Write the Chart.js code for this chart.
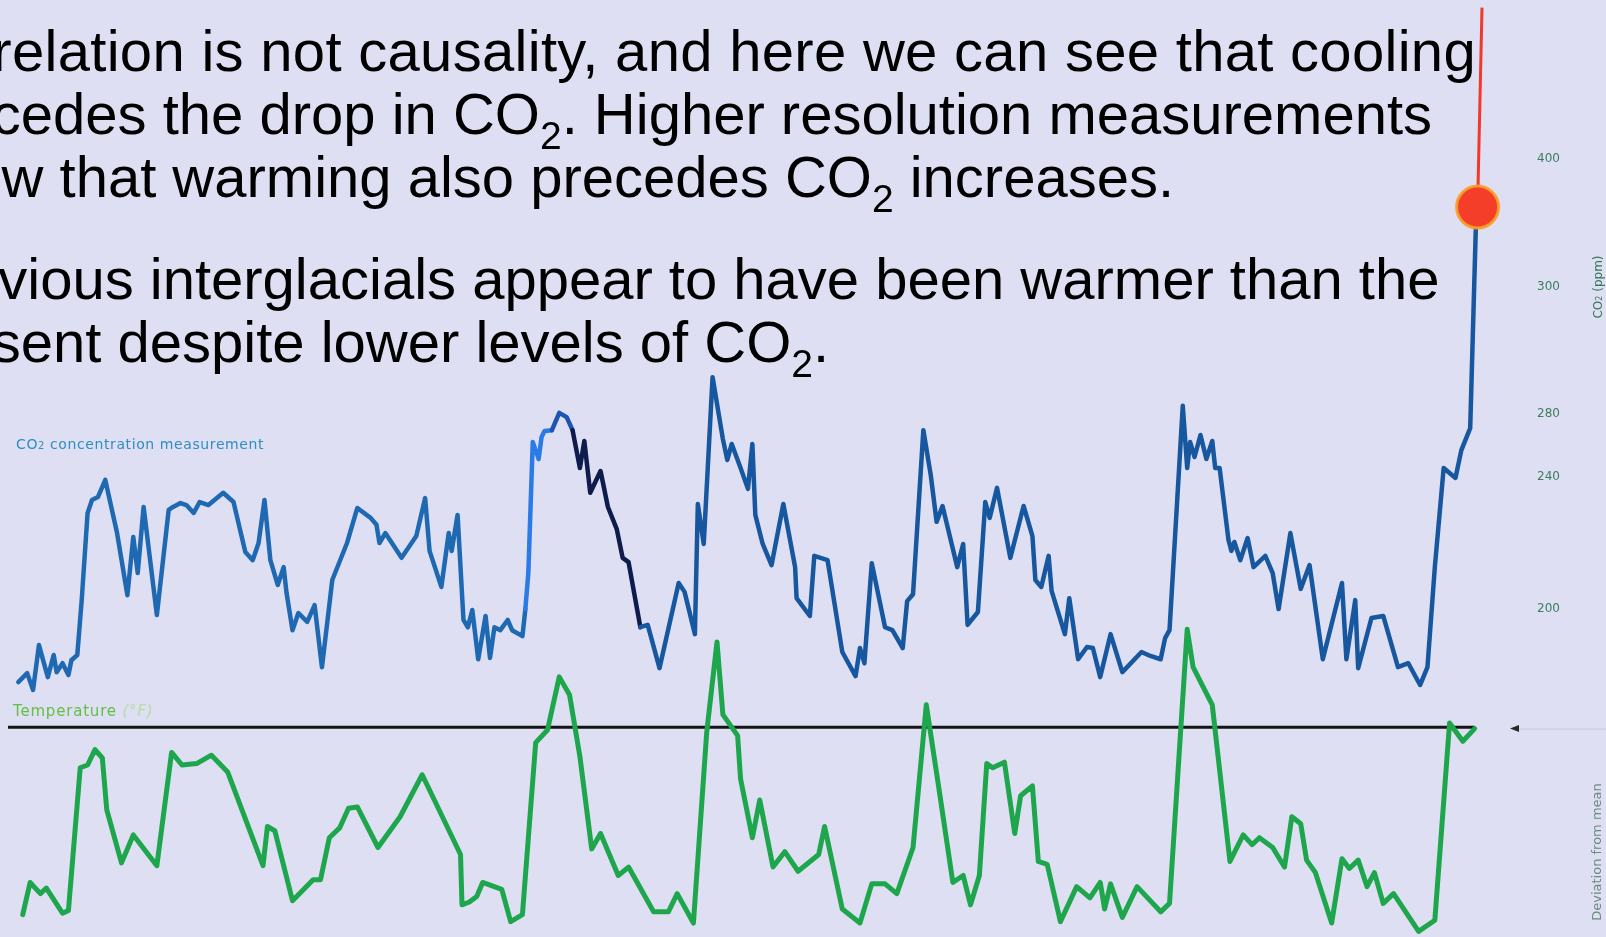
<!DOCTYPE html>
<html>
<head>
<meta charset="utf-8">
<script src="https://cdn.jsdelivr.net/npm/chart.js@4.4.1/dist/chart.umd.min.js"></script>
<style>
  html, body { margin: 0; padding: 0; background: #dedff2; }
  #wrap { position: relative; width: 1606px; height: 937px; overflow: hidden; background: #dedff2; }
  #chartBox { position: absolute; left: 0; top: 0; width: 1606px; height: 937px; }
  .para { position: absolute; left: -92px; font-family: "Liberation Sans", Arial, sans-serif; font-size: 58px; line-height: 63px; color: #000; white-space: nowrap; }
  .first { display: inline-block; margin-left: -10px; letter-spacing: 0.3px; }
  .sub { font-size: 39px; position: relative; top: 15px; line-height: 0; }
  .lbl { position: absolute; font-family: "DejaVu Sans", sans-serif; white-space: nowrap; }
  .rot { position: absolute; font-family: "DejaVu Sans", sans-serif; white-space: nowrap; transform: translate(-50%, -50%) rotate(-90deg); }
</style>
</head>
<body>
<div id="wrap">
  <div id="chartBox"><canvas id="co2Chart"></canvas></div>

  <div class="para" style="top:19px"><span class="first">Correlation is not causality, and here we can see that cooling</span><br>precedes the drop in CO<span class="sub">2</span>. Higher resolution measurements<br>show that warming also precedes CO<span class="sub">2</span> increases.</div>
  <div class="para" style="top:247px">Previous interglacials appear to have been warmer than the<br>present despite lower levels of CO<span class="sub">2</span>.</div>

  <div class="lbl" style="left:16px; top:436px; font-size:14px; letter-spacing:0.6px; color:#2f8dc2;">CO<span style="font-size:10px">2</span> concentration measurement</div>
  <div class="lbl" style="left:13px; top:702px; font-size:15px; letter-spacing:0.8px; color:#62bf44;">Temperature <span style="color:#b8dba4; font-style:italic">(°F)</span></div>
  <div class="rot" style="left:1598px; top:287px; font-size:12px; color:#357a5c;">CO<span style="font-size:8px">2</span> (ppm)</div>
  <div class="rot" style="left:1596px; top:852px; font-size:13px; color:#668c7e;">Deviation from mean</div>
</div>

<script>
// CO2 axis labels; the original axis is broken, so each label has its own place
const co2TickValues = [200, 240, 280, 300, 400];
// share of the plot height (from the bottom) where each label sits
const co2TickShare = [0.350, 0.491, 0.558, 0.694, 0.830];

// position along the record, 0 = left end, 100 = right end (no labelled time axis)
const co2Pos = [
  0.7, 1.3, 1.7, 2.1, 2.7, 3.1, 3.3, 3.7, 4.1, 4.3,
  4.7, 5.0, 5.4, 5.7, 6.1, 6.6, 7.4, 8.1, 8.5, 8.8,
  9.2, 10.1, 10.9, 11.2, 11.7, 12.1, 12.6, 13.0, 13.6, 14.6,
  15.3, 16.1, 16.6, 17.0, 17.4, 17.8, 18.3, 18.7, 18.9, 19.3,
  19.7, 20.3, 20.8, 21.3, 22.0, 23.0, 23.7, 24.6, 25.0, 25.2,
  25.6, 26.7, 27.7, 28.3, 28.6, 29.4, 29.9, 30.1, 30.5, 30.9,
  31.2, 31.5, 31.9, 32.4, 32.7, 33.0, 33.4, 33.9, 34.2, 34.9,
  35.1, 35.3, 35.6, 36.0, 36.2, 36.4, 36.9, 37.4, 37.9, 38.3,
  38.8, 39.1, 39.5, 40.2, 40.7, 41.3, 41.7, 42.1, 42.9, 43.4,
  44.2, 45.5, 45.9, 46.6, 46.8, 47.2, 47.8, 48.5, 48.8, 49.1,
  49.7, 50.2, 50.5, 50.7, 51.2, 51.8, 52.6, 53.4, 53.5, 54.4,
  54.7, 55.6, 56.6, 57.5, 57.8, 58.1, 58.6, 59.5, 60.0, 60.7,
  61.0, 61.4, 62.1, 62.6, 63.0, 63.4, 64.4, 64.8, 65.1, 65.8,
  66.3, 66.6, 67.1, 68.0, 68.9, 69.5, 69.7, 70.1, 70.6, 70.8,
  71.7, 72.0, 72.6, 73.2, 73.6, 74.1, 74.8, 75.6, 76.9, 77.5,
  78.2, 78.5, 78.8, 79.7, 80.0, 80.2, 80.5, 80.9, 81.3, 81.7,
  81.9, 82.2, 82.8, 83.0, 83.2, 83.6, 84.1, 84.5, 85.3, 85.8,
  86.2, 87.0, 87.7, 88.3, 89.2, 90.5, 90.8, 91.4, 91.6, 92.5,
  93.3, 94.3, 95.0, 95.8, 96.3, 96.8, 97.4, 98.2, 98.6, 99.2,
  99.6
];
// CO2 in ppm
const co2Ppm = [
  177.9, 180.6, 175.5, 189.1, 179.4, 186.1, 180.9, 183.6, 180.0, 184.5,
  186.1, 202.7, 229.1, 233.0, 233.9, 239.1, 223.0, 204.2, 221.8, 210.9,
  230.9, 198.2, 230.0, 230.9, 232.1, 231.5, 229.1, 232.4, 231.5, 235.2,
  232.4, 217.3, 214.8, 220.0, 233.0, 214.8, 207.3, 212.7, 204.8, 193.6,
  198.8, 196.1, 201.2, 182.4, 208.8, 220.0, 230.6, 227.6, 225.5, 220.0,
  223.0, 215.5, 222.1, 233.6, 217.6, 206.7, 223.0, 217.6, 228.5, 196.7,
  194.5, 199.7, 184.8, 197.9, 185.2, 194.5, 193.6, 196.7, 193.6, 191.8,
  200.0, 210.9, 262.2, 251.4, 265.4, 269.2, 269.8, 280.2, 278.1, 269.8,
  245.7, 262.9, 235.2, 243.8, 230.9, 224.2, 215.5, 214.2, 194.5, 195.2,
  182.1, 207.9, 205.2, 192.4, 231.8, 219.7, 285.8, 264.1, 250.8, 261.0,
  245.7, 236.4, 261.0, 228.5, 219.7, 213.3, 231.8, 212.7, 203.3, 197.9,
  216.1, 214.8, 187.0, 179.7, 188.2, 183.6, 213.9, 194.5, 193.6, 188.2,
  202.4, 204.5, 269.8, 241.3, 226.4, 231.2, 212.7, 219.7, 195.2, 199.1,
  232.4, 227.6, 236.7, 215.5, 231.2, 222.1, 208.8, 206.7, 216.1, 205.5,
  192.4, 203.3, 184.8, 188.5, 188.2, 179.4, 192.4, 180.9, 187.0, 185.8,
  184.8, 191.2, 193.6, 281.3, 245.7, 262.2, 252.7, 266.7, 251.4, 262.9,
  245.7, 245.7, 220.9, 217.6, 220.3, 214.8, 221.5, 212.7, 216.1, 210.9,
  200.0, 223.0, 206.1, 213.3, 184.8, 207.9, 184.8, 202.7, 182.1, 197.3,
  197.9, 182.4, 183.6, 177.0, 182.4, 212.7, 245.7, 239.7, 257.1, 271.1,
  353.9
];

// present-day reading (red dot) and the line that leaves the chart
const recentPos = [99.7, 100];
const recentPpm = [362.5, 519];

// temperature, deviation from mean (°F)
const tempPos = [
  1.0, 1.5, 2.2, 2.6, 3.7, 4.1, 4.9, 5.4, 5.9, 6.4,
  6.7, 7.7, 8.5, 10.1, 11.1, 11.8, 12.8, 13.8, 14.9, 17.3,
  17.6, 18.1, 19.3, 20.7, 21.2, 21.8, 22.5, 23.1, 23.7, 25.1,
  26.6, 28.1, 30.7, 30.8, 31.3, 31.8, 32.2, 33.5, 34.1, 34.9,
  35.8, 36.6, 37.4, 38.1, 38.8, 39.6, 40.2, 41.4, 42.1, 43.8,
  44.8, 45.4, 46.5, 47.4, 48.1, 48.5, 49.5, 49.7, 50.5, 51.0,
  51.9, 52.7, 53.6, 55.0, 55.4, 56.6, 57.8, 58.6, 59.5, 60.3,
  61.4, 62.3, 63.2, 64.1, 64.8, 65.3, 65.9, 66.4, 66.8, 67.6,
  68.3, 68.7, 69.5, 69.9, 70.5, 71.4, 72.5, 73.4, 74.1, 74.4,
  74.8, 75.6, 76.6, 78.2, 78.8, 80.0, 80.4, 81.7, 82.9, 83.8,
  84.4, 84.9, 85.8, 86.6, 87.1, 87.7, 88.1, 88.7, 89.8, 90.5,
  91.0, 91.6, 92.2, 92.7, 93.3, 94.0, 95.7, 96.8, 97.8, 98.7,
  99.5
];
const tempDev = [
  -13.4, -11.1, -11.9, -11.5, -13.3, -13.1, -2.9, -2.7, -1.6, -2.2,
  -5.9, -9.7, -7.7, -9.9, -1.8, -2.7, -2.6, -2.0, -3.2, -9.9,
  -7.1, -7.4, -12.4, -10.9, -10.9, -7.9, -7.2, -5.8, -5.7, -8.6,
  -6.4, -3.4, -9.1, -12.7, -12.5, -12.1, -11.1, -11.6, -13.9, -13.4,
  -1.1, -0.2, 3.6, 2.3, -2.1, -8.7, -7.6, -10.6, -10.0, -13.2,
  -13.2, -11.9, -14.0, -0.4, 6.1, 0.9, -0.6, -3.7, -7.9, -5.2,
  -10.0, -8.9, -10.3, -9.1, -7.1, -13.0, -14.0, -11.2, -11.2, -11.9,
  -8.6, 1.6, -4.7, -11.1, -10.6, -12.7, -10.6, -2.6, -2.9, -2.5,
  -7.6, -4.9, -4.2, -9.6, -9.8, -13.9, -11.4, -12.2, -11.1, -13.0,
  -11.2, -13.6, -11.4, -13.2, -12.6, 7.0, 4.3, 1.6, -9.6, -7.7,
  -8.4, -7.9, -8.6, -10.0, -6.4, -6.9, -9.5, -10.4, -14.0, -9.4,
  -10.1, -9.5, -11.4, -10.4, -12.6, -11.9, -14.6, -13.8, 0.3, -1.0,
  -0.1
];

// mean line (zero deviation)
const meanPos = [0, 99.5];
const meanDev = [0, 0];

const toPoints = (xs, ys) => xs.map((x, i) => ({ x: x, y: ys[i] }));

// piecewise mapping for the broken CO2 axis
function co2Share(v) {
  const t = co2TickValues, s = co2TickShare, n = t.length;
  let i = 0;
  if (v >= t[n - 1]) i = n - 2;
  else while (i < n - 2 && v > t[i + 1]) i++;
  return s[i] + (v - t[i]) * (s[i + 1] - s[i]) / (t[i + 1] - t[i]);
}

class BrokenScale extends Chart.LinearScale {
  getPixelForValue(value) {
    return this.getPixelForDecimal(co2Share(value));
  }
}
BrokenScale.id = 'broken';
BrokenScale.defaults = Chart.LinearScale.defaults;
Chart.register(BrokenScale);

// little arrow marking "today" on the temperature axis
const meanMarker = {
  id: 'meanMarker',
  afterDatasetsDraw(chart) {
    const y = Math.round(chart.scales.yTemp.getPixelForValue(0)) + 1.5;
    const x = chart.chartArea.right + 28;
    const c = chart.ctx;
    c.save();
    c.fillStyle = '#2a2a2a';
    c.beginPath();
    c.moveTo(x, y);
    c.lineTo(x + 9, y - 3.5);
    c.lineTo(x + 9, y + 3.5);
    c.closePath();
    c.fill();
    c.strokeStyle = '#c8c9da';
    c.lineWidth = 1;
    c.beginPath();
    c.moveTo(x + 9, y + 0.5);
    c.lineTo(chart.width, y + 0.5);
    c.stroke();
    c.restore();
  }
};

const co2Shade = ctx => {
  const x = ctx.p0.parsed.x;
  if (x < 35.0) return '#1f69b2';
  if (x < 36.5) return '#2b7be6';
  if (x < 38.0) return '#1d55b0';
  if (x < 42.5) return '#0d1c4d';
  return '#17579f';
};

const ctx = document.getElementById('co2Chart').getContext('2d');
new Chart(ctx, {
  type: 'line',
  data: {
    datasets: [
      {
        label: 'Present',
        data: toPoints(recentPos, recentPpm),
        yAxisID: 'yCo2',
        clip: false,
        borderColor: '#f2382b',
        borderWidth: 3,
        pointRadius: [21, 0],
        pointBackgroundColor: '#f43e2a',
        pointBorderColor: 'rgba(247,160,38,0.9)',
        pointBorderWidth: 3
      },
      {
        label: 'CO2 concentration measurement',
        data: toPoints(co2Pos, co2Ppm),
        yAxisID: 'yCo2',
        borderColor: '#17579f',
        borderWidth: 4.5,
        borderJoinStyle: 'round',
        borderCapStyle: 'round',
        pointRadius: 0,
        segment: { borderColor: co2Shade }
      },
      {
        label: 'Temperature (°F)',
        data: toPoints(tempPos, tempDev),
        yAxisID: 'yTemp',
        borderColor: '#1ea64d',
        borderWidth: 5,
        borderJoinStyle: 'round',
        borderCapStyle: 'round',
        pointRadius: 0
      },
      {
        label: 'Mean',
        data: toPoints(meanPos, meanDev),
        yAxisID: 'yTemp',
        borderColor: '#141414',
        borderWidth: 3,
        pointRadius: 0
      }
    ]
  },
  options: {
    responsive: true,
    maintainAspectRatio: false,
    animation: false,
    events: [],
    layout: { autoPadding: false, padding: { left: 8, right: 0, top: 0, bottom: 0 } },
    plugins: {
      legend: { display: false },
      tooltip: { enabled: false }
    },
    scales: {
      x: { type: 'linear', min: 0, max: 100, display: false },
      yCo2: {
        type: 'broken',
        position: 'right',
        min: 150,
        max: 520,
        afterBuildTicks: s => { s.ticks = co2TickValues.map(v => ({ value: v })); },
        afterFit: s => {
          s.width = 124;
          s.paddingTop = 0;
          s.paddingBottom = 0;
        },
        grid: { display: false, drawTicks: false },
        border: { display: false },
        ticks: {
          padding: 55,
          color: '#3a7d60',
          font: { family: 'DejaVu Sans', size: 12 },
          callback: v => String(v)
        }
      },
      yTemp: { type: 'linear', min: -15, max: 52, display: false }
    }
  },
  plugins: [meanMarker]
});
</script>
</body>
</html>
